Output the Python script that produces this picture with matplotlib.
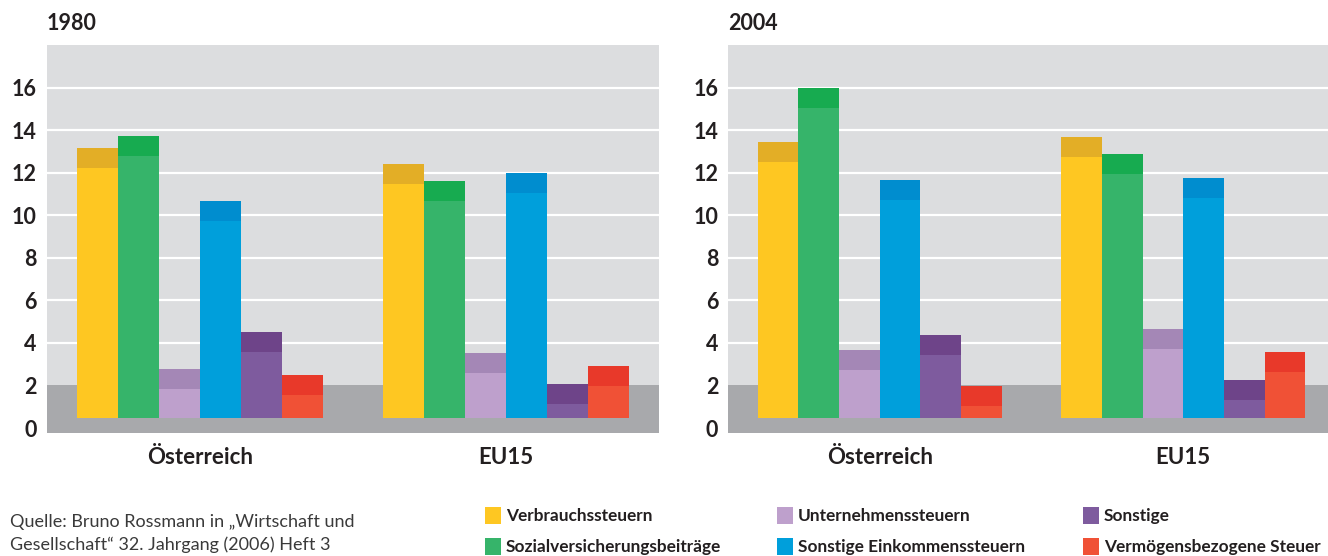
import matplotlib
matplotlib.use("Agg")
import matplotlib.pyplot as plt
from matplotlib.patches import Rectangle
import numpy as np

# --- Data ---
regions = ["Österreich", "EU15"]
years = ["1980", "2004"]
categories = [
    "Verbrauchssteuern",
    "Sozialversicherungsbeiträge",
    "Unternehmenssteuern",
    "Sonstige Einkommenssteuern",
    "Sonstige",
    "Vermögensbezogene Steuer",
]
# top of each bar, per region, in category order
values_1980 = {
    "Österreich": [13.16, 13.72, 2.77, 10.67, 4.51, 2.49],
    "EU15":       [12.40, 11.60, 3.52, 11.98, 2.07, 2.91],
}
values_2004 = {
    "Österreich": [13.44, 15.98, 3.66, 11.65, 4.38, 1.97],
    "EU15":       [13.67, 12.88, 4.65, 11.75, 2.26, 3.57],
}
yticks = [0, 2, 4, 6, 8, 10, 12, 14, 16]

# --- Styles ---
main_colors = ["#FEC722", "#36B46A", "#BEA0CC", "#009FDB", "#7E5B9E", "#F05136"]
cap_colors = ["#E3AE26", "#17AB50", "#A487B6", "#008DCF", "#6E4489", "#E8392A"]
BG_LIGHT = "#DCDDDF"
BG_DARK = "#A8A9AC"
TXT = "#231F20"
BAR_BASE = 0.45
CAP = 0.93
BAR_W = 0.134

plt.rcParams["font.family"] = ["Lato", "DejaVu Sans"]

W, H = 1328, 556
fig = plt.figure(figsize=(W / 100, H / 100), dpi=100)

panels = [
    ("1980", values_1980, [46.5, 612.5]),
    ("2004", values_2004, [728.0, 607.0]),
]
top_px, bot_px = 45.0, 432.7

for year, vals, (left_px, width_px) in panels:
    ax = fig.add_axes([left_px / W, 1 - bot_px / H, width_px / W, (bot_px - top_px) / H])
    ax.set_facecolor(BG_LIGHT)
    ax.set_xlim(0, 2)
    ax.set_ylim(-0.22, 18.0)
    ax.axhspan(-0.22, 2, color=BG_DARK, zorder=0.5, lw=0)
    for t in yticks[2:]:
        ax.axhline(t, color="white", lw=1.6, zorder=0.6)

    for gi, reg in enumerate(regions):
        center = gi + 0.5
        xs = center + (np.arange(len(categories)) - 2.5) * BAR_W
        tops = np.array(vals[reg])
        ax.bar(xs, tops - BAR_BASE, bottom=BAR_BASE, width=BAR_W,
               color=main_colors, lw=0, zorder=2)
        ax.bar(xs, CAP, bottom=tops - CAP, width=BAR_W,
               color=cap_colors, lw=0, zorder=3)

    ax.set_yticks(yticks)
    ax.set_yticklabels([str(t) for t in yticks], fontsize=15.5, fontweight="bold", color=TXT)
    ax.set_xticks([0.5, 1.5])
    ax.set_xticklabels(regions, fontsize=16, fontweight="bold", color=TXT)
    ax.tick_params(axis="y", length=0, pad=7)
    ax.tick_params(axis="x", length=0, pad=10)
    for s in ax.spines.values():
        s.set_visible(False)
    ax.set_title(year, loc="left", fontsize=15.5, fontweight="bold", color=TXT, pad=11)

# --- Legend (manual, three columns) ---
legend_cols_px = [485, 777, 1083]
legend_rows_px = [507, 538]
order = [[0, 2, 4], [1, 3, 5]]
for r, row in enumerate(order):
    for c, idx in enumerate(row):
        x0 = legend_cols_px[c]
        y0 = legend_rows_px[r]
        fig.add_artist(Rectangle((x0 / W, 1 - (y0 + 17) / H), 16 / W, 17 / H,
                                 transform=fig.transFigure, color=main_colors[idx], lw=0))
        fig.text((x0 + 21) / W, 1 - (y0 + 9) / H, categories[idx], fontsize=12.4,
                 fontweight="bold", color=TXT, va="center", ha="left")

# --- Source ---
fig.text(10 / W, 1 - 522 / H, "Quelle: Bruno Rossmann in „Wirtschaft und",
         fontsize=13, color="#3a3a3a", va="center", ha="left")
fig.text(10 / W, 1 - 545 / H, "Gesellschaft“ 32. Jahrgang (2006) Heft 3",
         fontsize=13, color="#3a3a3a", va="center", ha="left")

fig.savefig("out.png", dpi=100)
